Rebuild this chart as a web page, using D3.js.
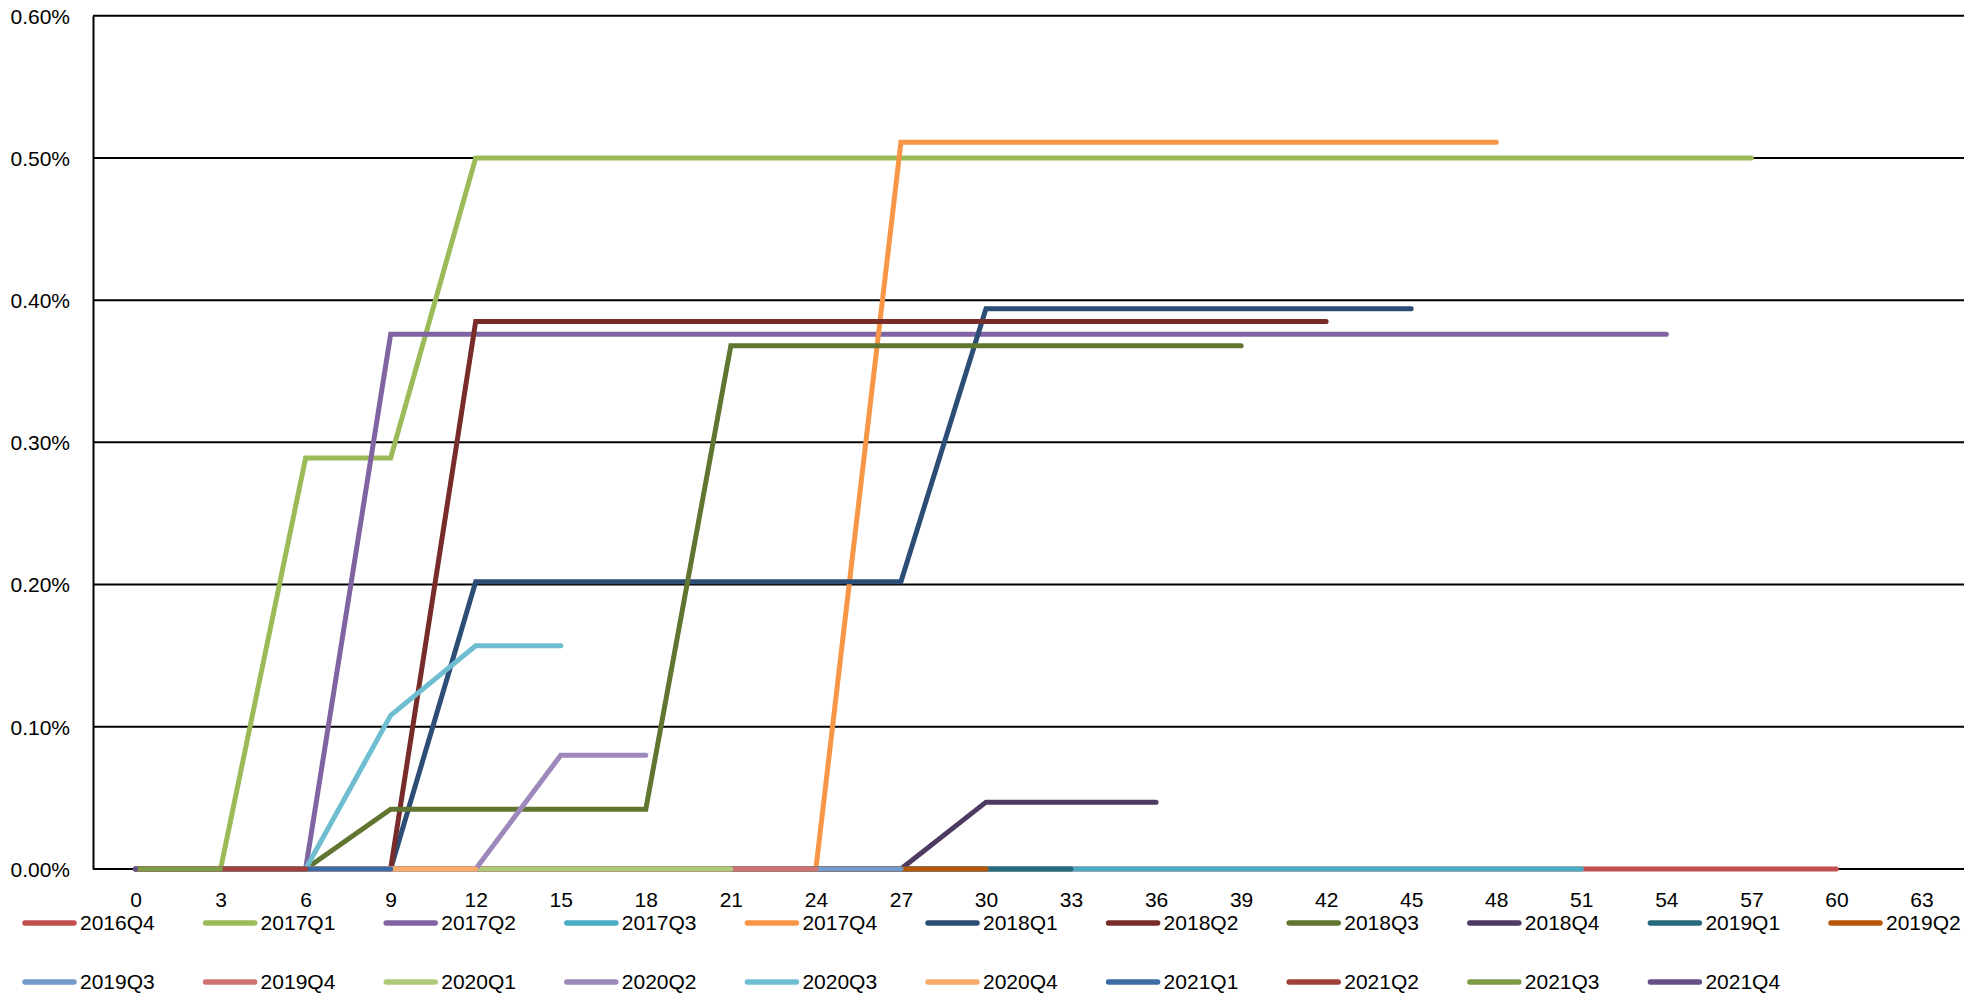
<!DOCTYPE html>
<html>
<head>
<meta charset="utf-8">
<script src="https://cdn.jsdelivr.net/npm/d3@7"></script>
<style>
  html, body { margin: 0; padding: 0; background: #fff; }
  svg { display: block; }
  text { font-family: "Liberation Sans", Arial, sans-serif; fill: #000; }
</style>
</head>
<body>
<svg id="chart" width="1987" height="995"></svg>
<script>
// ---- data ----
const months = [0, 3, 6, 9, 12, 15, 18, 21, 24, 27, 30, 33, 36, 39, 42, 45, 48, 51, 54, 57, 60];
const xTickLabels = [0, 3, 6, 9, 12, 15, 18, 21, 24, 27, 30, 33, 36, 39, 42, 45, 48, 51, 54, 57, 60, 63];
const yTickValues = [0, 0.001, 0.002, 0.003, 0.004, 0.005, 0.006];

const seriesNames = ["2016Q4", "2017Q1", "2017Q2", "2017Q3", "2017Q4", "2018Q1", "2018Q2", "2018Q3", "2018Q4", "2019Q1", "2019Q2",
                     "2019Q3", "2019Q4", "2020Q1", "2020Q2", "2020Q3", "2020Q4", "2021Q1", "2021Q2", "2021Q3", "2021Q4"];
const seriesColors = ["#C0504D", "#9BBB59", "#8064A2", "#4BACC6", "#F79646", "#2C4D75", "#772C2A", "#5F7530", "#4D3B62", "#276A7C", "#B65708",
                      "#729ACA", "#CD7371", "#AFC97A", "#9C88BA", "#6FBDD1", "#F9AB6B", "#3C6BA6", "#A0403D", "#7E9B46", "#664F88"];

const s2016Q4 = [0, 0, 0, 0, 0, 0, 0, 0, 0, 0, 0, 0, 0, 0, 0, 0, 0, 0, 0, 0, 0];
const s2017Q1 = [0, 0, 0.00289, 0.00289, 0.00500, 0.00500, 0.00500, 0.00500, 0.00500, 0.00500, 0.00500, 0.00500, 0.00500, 0.00500, 0.00500, 0.00500, 0.00500, 0.00500, 0.00500, 0.00500];
const s2017Q2 = [0, 0, 0, 0.00376, 0.00376, 0.00376, 0.00376, 0.00376, 0.00376, 0.00376, 0.00376, 0.00376, 0.00376, 0.00376, 0.00376, 0.00376, 0.00376, 0.00376, 0.00376];
const s2017Q3 = [0, 0, 0, 0, 0, 0, 0, 0, 0, 0, 0, 0, 0, 0, 0, 0, 0, 0];
const s2017Q4 = [0, 0, 0, 0, 0, 0, 0, 0, 0, 0.00511, 0.00511, 0.00511, 0.00511, 0.00511, 0.00511, 0.00511, 0.00511];
const s2018Q1 = [0, 0, 0, 0, 0.00202, 0.00202, 0.00202, 0.00202, 0.00202, 0.00202, 0.00394, 0.00394, 0.00394, 0.00394, 0.00394, 0.00394];
const s2018Q2 = [0, 0, 0, 0, 0.00385, 0.00385, 0.00385, 0.00385, 0.00385, 0.00385, 0.00385, 0.00385, 0.00385, 0.00385, 0.00385];
const s2018Q3 = [0, 0, 0, 0.00042, 0.00042, 0.00042, 0.00042, 0.00368, 0.00368, 0.00368, 0.00368, 0.00368, 0.00368, 0.00368];
const s2018Q4 = [0, 0, 0, 0, 0, 0, 0, 0, 0, 0, 0.00047, 0.00047, 0.00047];
const s2019Q1 = [0, 0, 0, 0, 0, 0, 0, 0, 0, 0, 0, 0];
const s2019Q2 = [0, 0, 0, 0, 0, 0, 0, 0, 0, 0, 0];
const s2019Q3 = [0, 0, 0, 0, 0, 0, 0, 0, 0, 0];
const s2019Q4 = [0, 0, 0, 0, 0, 0, 0, 0, 0];
const s2020Q1 = [0, 0, 0, 0, 0, 0, 0, 0];
const s2020Q2 = [0, 0, 0, 0, 0, 0.00080, 0.00080];
const s2020Q3 = [0, 0, 0, 0.00108, 0.00157, 0.00157];
const s2020Q4 = [0, 0, 0, 0, 0];
const s2021Q1 = [0, 0, 0, 0];
const s2021Q2 = [0, 0, 0];
const s2021Q3 = [0, 0];
const s2021Q4 = [0];

const seriesValues = [s2016Q4, s2017Q1, s2017Q2, s2017Q3, s2017Q4, s2018Q1, s2018Q2, s2018Q3, s2018Q4, s2019Q1, s2019Q2,
                      s2019Q3, s2019Q4, s2020Q1, s2020Q2, s2020Q3, s2020Q4, s2021Q1, s2021Q2, s2021Q3, s2021Q4];

// ---- layout ----
const svg = d3.select("#chart");
const plotL = 93, plotR = 1964, plotT = 15.7, plotB = 869;
const fontSize = "21px";

const x = d3.scaleLinear().domain([-1.5, 64.5]).range([plotL, plotR]);
const y = d3.scaleLinear().domain([0, 0.006]).range([plotB, plotT]);

// gridlines
svg.append("g")
  .selectAll("line")
  .data(yTickValues)
  .join("line")
  .attr("x1", plotL).attr("x2", plotR)
  .attr("y1", d => y(d)).attr("y2", d => y(d))
  .attr("stroke", "#000").attr("stroke-width", 2);

// y axis
const yAxis = d3.axisLeft(y).tickValues(yTickValues).tickFormat(d3.format(".2%")).tickSize(0).tickPadding(23);
const gy = svg.append("g").attr("transform", `translate(${plotL},0)`).call(yAxis);
gy.select(".domain").attr("stroke", "#000").attr("stroke-width", 2);
gy.selectAll("text").style("font-size", fontSize).attr("dy", "0.35em")
  .style("font-family", '"Liberation Sans", Arial, sans-serif');

// x axis (labels only, baseline drawn by gridline at 0)
const xAxis = d3.axisBottom(x).tickValues(xTickLabels).tickFormat(d3.format("d")).tickSize(0).tickPadding(23);
const gx = svg.append("g").attr("transform", `translate(0,${plotB})`).call(xAxis);
gx.select(".domain").remove();
gx.selectAll("text").style("font-size", fontSize).attr("dy", "0.35em").attr("y", 31)
  .style("font-family", '"Liberation Sans", Arial, sans-serif');

// lines
const line = d3.line().x((d, i) => x(months[i])).y(d => y(d));
svg.append("g")
  .selectAll("path")
  .data(seriesValues)
  .join("path")
  .attr("d", d => line(d))
  .attr("fill", "none")
  .attr("stroke", (d, i) => seriesColors[i])
  .attr("stroke-width", 5)
  .attr("stroke-linecap", "round")
  .attr("stroke-linejoin", "miter");

// legend
const perRow = 11, itemW = 180.6, legX0 = 25, rowY = [923, 982];
const leg = svg.append("g")
  .selectAll("g")
  .data(seriesNames)
  .join("g")
  .attr("transform", (d, i) => `translate(${legX0 + (i % perRow) * itemW},${rowY[Math.floor(i / perRow)]})`);
leg.append("line")
  .attr("x1", 0).attr("x2", 49).attr("y1", 0).attr("y2", 0)
  .attr("stroke", (d, i) => seriesColors[i])
  .attr("stroke-width", 5.5)
  .attr("stroke-linecap", "round");
leg.append("text")
  .attr("x", 55).attr("y", 0).attr("dy", "0.35em")
  .style("font-size", fontSize)
  .text(d => d);
</script>
</body>
</html>
